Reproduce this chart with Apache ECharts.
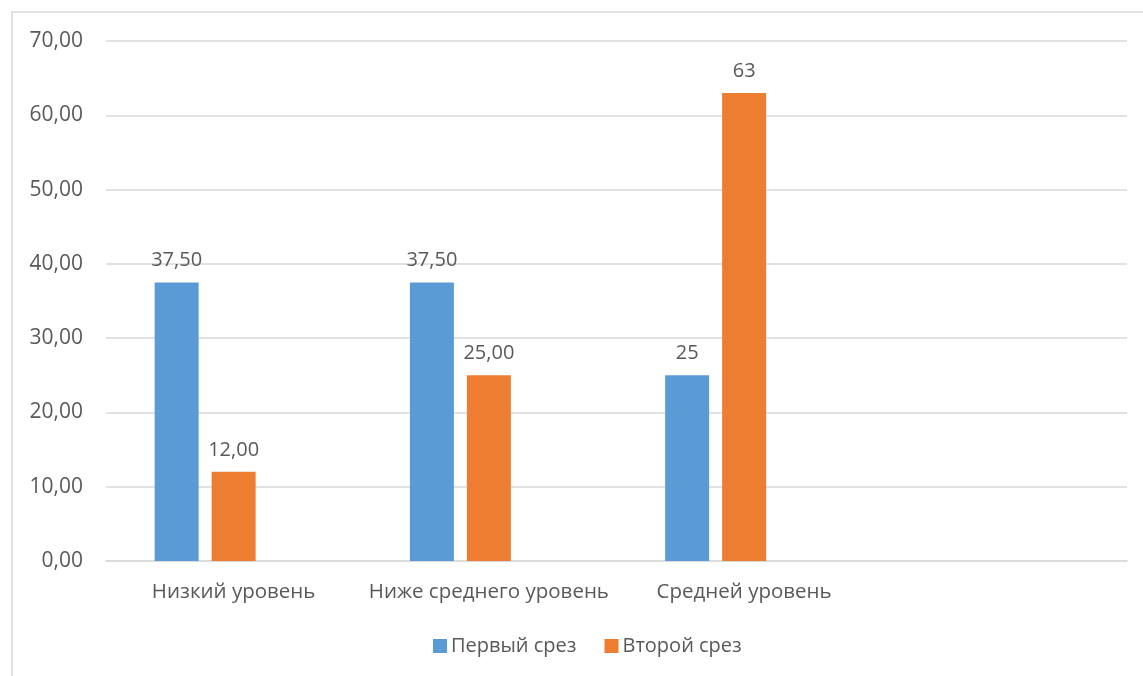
<!DOCTYPE html>
<html><head><meta charset="utf-8">
<script src="https://cdn.jsdelivr.net/npm/echarts@6/dist/echarts.min.js"></script>
<style>html,body{margin:0;padding:0;background:#fff}#c{width:1143px;height:676px}</style>
</head><body><div id="c"></div>
<script>
const categories = ['Низкий уровень', 'Ниже среднего уровень', 'Средней уровень', ''];
const seriesNames = ['Первый срез', 'Второй срез'];
const firstValues = [37.5, 37.5, 25, null];
const secondValues = [12, 25, 63, null];
const firstLabels = ['37,50', '37,50', '25', ''];
const secondLabels = ['12,00', '25,00', '63', ''];
const yTicks = [0, 10, 20, 30, 40, 50, 60, 70];

const FONT = 'Open Sans';
const TXT = '#595959';
const chart = echarts.init(document.getElementById('c'), null, {renderer: 'canvas'});
chart.setOption({
  animation: false,
  backgroundColor: '#fff',
  textStyle: {fontFamily: FONT},
  graphic: [{type: 'rect', shape: {x: 12, y: 12, width: 1200, height: 800}, style: {fill: 'none', stroke: '#d9d9d9', lineWidth: 1.5}, silent: true, z: -1}],
  grid: {left: 106, right: 16, top: 41, bottom: 115},
  legend: {
    data: seriesNames, left: 428, top: 631, icon: 'rect', itemWidth: 14, itemHeight: 14, itemGap: 28,
    textStyle: {fontFamily: FONT, fontSize: 20, color: TXT, padding: [0, 0, 0, -1]}
  },
  xAxis: {
    type: 'category', data: categories,
    axisLine: {lineStyle: {color: '#d9d9d9', width: 1.5}}, axisTick: {show: false},
    axisLabel: {fontFamily: FONT, fontSize: 20.5, color: TXT, margin: 21, interval: 0}
  },
  yAxis: {
    type: 'value', min: yTicks[0], max: yTicks[yTicks.length - 1], interval: 10,
    axisLine: {show: false}, axisTick: {show: false},
    splitLine: {lineStyle: {color: '#d9d9d9', width: 1.5}},
    axisLabel: {fontFamily: FONT, fontSize: 21, color: TXT, margin: 23, formatter: v => v.toFixed(2).replace('.', ',')}
  },
  series: [
    {name: seriesNames[0], type: 'bar', data: firstValues, barWidth: 44, barGap: '29.5%', itemStyle: {color: '#5b9bd5'},
     label: {show: true, position: 'top', distance: 12, fontFamily: FONT, fontSize: 20, color: TXT, formatter: p => firstLabels[p.dataIndex]}},
    {name: seriesNames[1], type: 'bar', data: secondValues, barWidth: 44, barGap: '29.5%', itemStyle: {color: '#ed7d31'},
     label: {show: true, position: 'top', distance: 12, fontFamily: FONT, fontSize: 20, color: TXT, formatter: p => secondLabels[p.dataIndex]}},
    {name: 'empty', type: 'bar', data: [null, null, null, null], barWidth: 44, barGap: '29.5%'}
  ]
});
</script></body></html>
